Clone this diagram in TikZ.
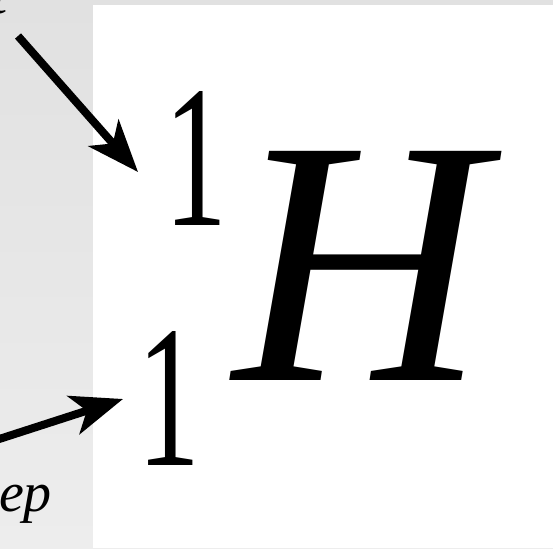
\documentclass[tikz,border=0pt]{standalone}
\usepackage{fontspec}
\setmainfont{Liberation Serif}
\usetikzlibrary{arrows.meta}
\definecolor{bgtop}{HTML}{E1E1E1}
\definecolor{bgbot}{HTML}{EDEDED}
\tikzset{
  glyph/.style={inner sep=0pt, outer sep=0pt, anchor=base west, text=black},
  numeral/.style={glyph, font=\fontsize{203}{203}\selectfont},
  pointer/.style={line width=8pt, -{Stealth[length=52pt,width=40pt,inset=14pt]}}
}
\begin{document}
\begin{tikzpicture}[x=1pt,y=-1pt]
\useasboundingbox (0,0) rectangle (553,548);
\clip (0,0) rectangle (553,548);
% background
\shade[top color=bgtop, bottom color=bgbot] (0,0) rectangle (553,548);
\fill[white] (93,5) rectangle (553,548);
% labels (cropped at the left edge)
\node[glyph] (lblTop) at (-8,14) {\fontsize{54}{54}\selectfont\itshape t};
\node[glyph] (lblBot) at (-1,511) {\fontsize{56}{56}\selectfont\itshape ep};
% symbol
\node[numeral] (mass) at (164,225) {\scalebox{0.62}[1]{1}};
\node[numeral] (atomic) at (137,465) {\scalebox{0.62}[1]{1}};
\node[glyph] (sym) at (233,380) {\fontsize{350}{350}\selectfont\itshape H};
% arrows
\coordinate (tailA) at (18,36);
\coordinate (tipA) at (138,172);
\coordinate (tailB) at (-10,442);
\coordinate (tipB) at (123,399);
\draw[pointer] (tailA) -- (tipA);
\draw[pointer] (tailB) -- (tipB);
\end{tikzpicture}
\end{document}
